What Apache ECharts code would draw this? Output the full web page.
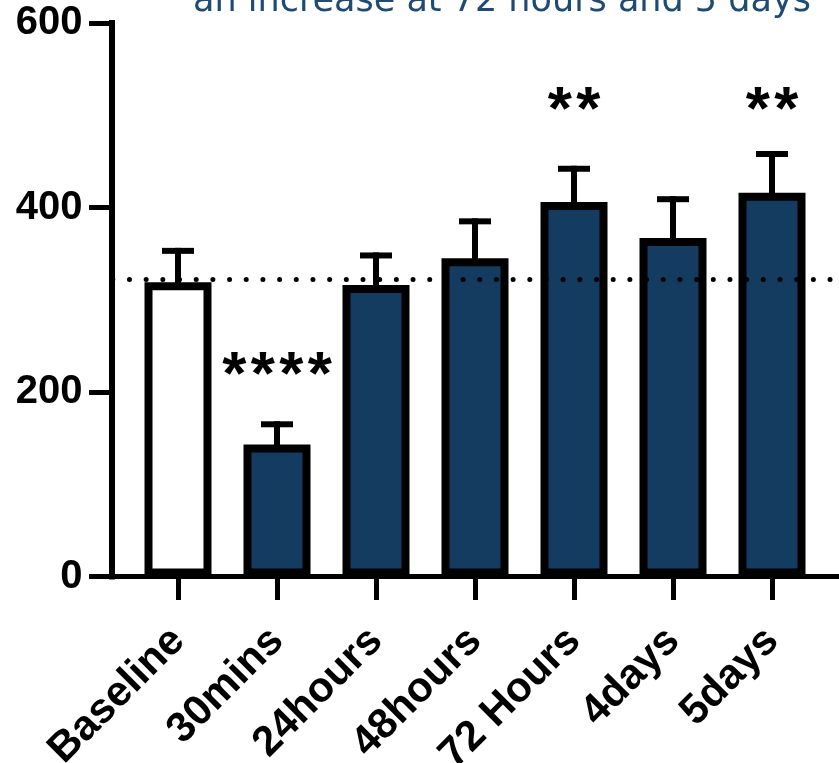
<!DOCTYPE html>
<html>
<head>
<meta charset="utf-8">
<script src="https://cdn.jsdelivr.net/npm/echarts@6/dist/echarts.min.js"></script>
<style>html,body{margin:0;padding:0;background:#fff}#c{width:839px;height:763px}</style>
</head>
<body>
<div id="c"></div>
<script>
const categories = ['Baseline', '30mins', '24hours', '48hours', '72 Hours', '4days', '5days'];
const means = [319, 143, 316, 345, 406, 367, 416];
const sem = [34, 22, 32, 40, 36, 42, 42];
const refValue = 322;
const stars = ['', '****', '', '', '**', '', '**'];
const starLevels = [null, 216, null, null, 504, null, 504];
const yTicks = [0, 200, 400, 600];
const titleText = 'an increase at 72 hours and 5 days';

const barBlue = '#143b60';
const chart = echarts.init(document.getElementById('c'));

const gridTop = 23, gridBottom = 186.5;

const option = {
  animation: false,
  title: {
    text: titleText,
    left: 188, top: -21,
    textStyle: {fontFamily: 'DejaVu Sans', fontWeight: 'normal', fontSize: 35, color: '#1f4a74'}
  },
  grid: [
    {left: 111.5, right: 0, top: gridTop, bottom: gridBottom, containLabel: false, outerBoundsMode: 'none'},
    {left: 128.5, width: 693, top: gridTop, bottom: gridBottom, containLabel: false, outerBoundsMode: 'none'}
  ],
  xAxis: [
    {gridIndex: 0, type: 'value', min: 0, max: 1,
     axisLine: {show: true, lineStyle: {color: '#000', width: 5}},
     axisTick: {show: false}, axisLabel: {show: false}, splitLine: {show: false}},
    {gridIndex: 1, type: 'category', data: categories, boundaryGap: true,
     axisLine: {show: false},
     axisTick: {show: true, alignWithLabel: true, length: 23.5, lineStyle: {color: '#000', width: 5}},
     axisLabel: {rotate: 45, margin: 58, interval: 0, color: '#000', fontFamily: 'Liberation Sans, Arial', fontWeight: 'bold', fontSize: 42}}
  ],
  yAxis: [
    {gridIndex: 0, type: 'value', min: yTicks[0], max: yTicks[yTicks.length - 1], interval: 200,
     axisLine: {show: true, lineStyle: {color: '#000', width: 6, cap: 'square'}},
     axisTick: {show: true, length: 22.5, lineStyle: {color: '#000', width: 5}},
     axisLabel: {margin: 29, color: '#000', fontFamily: 'Liberation Sans, Arial', fontWeight: 'bold', fontSize: 40},
     splitLine: {show: false}},
    {gridIndex: 1, type: 'value', min: yTicks[0], max: yTicks[yTicks.length - 1], show: false}
  ],
  series: [
    {
      type: 'custom', xAxisIndex: 1, yAxisIndex: 1, z: 1,
      data: means.map((m, i) => [i, m, m + sem[i]]),
      renderItem: function (params, api) {
        const p0 = api.coord([api.value(0), api.value(1)]);
        const p1 = api.coord([api.value(0), api.value(2)]);
        const st = {stroke: '#000', lineWidth: 6};
        return {type: 'group', children: [
          {type: 'line', shape: {x1: p0[0], y1: p0[1] + 4, x2: p1[0], y2: p1[1] - 3}, style: st},
          {type: 'line', shape: {x1: p1[0] - 16, y1: p1[1], x2: p1[0] + 16, y2: p1[1]}, style: st}
        ]};
      }
    },
    {
      type: 'bar', xAxisIndex: 1, yAxisIndex: 1, z: 2, barWidth: 67,
      data: means.map((m, i) => ({value: m, itemStyle: {color: i === 0 ? '#fff' : barBlue}})),
      itemStyle: {borderColor: '#000', borderWidth: 8}
    },
    {
      type: 'custom', xAxisIndex: 1, yAxisIndex: 1, z: 5,
      data: stars.map((s, i) => [i, starLevels[i], s]).filter(d => d[2]),
      renderItem: function (params, api) {
        const p = api.coord([api.value(0), api.value(1)]);
        const s = stars[api.value(0)];
        const pitch = 28.5;
        const children = [];
        for (let k = 0; k < s.length; k++) {
          children.push({type: 'text', x: p[0] + (k - (s.length - 1) / 2) * pitch, y: p[1],
            style: {text: '*', fontFamily: 'Liberation Sans, Arial', fontWeight: 'bold', fontSize: 62,
                    fill: '#000', align: 'center', verticalAlign: 'middle'}});
        }
        return {type: 'group', children: children};
      }
    },
    {
      type: 'line', xAxisIndex: 0, yAxisIndex: 0, z: 10, showSymbol: false,
      data: [[0, refValue]], lineStyle: {width: 0},
      markLine: {
        silent: true, symbol: 'none', label: {show: false},
        lineStyle: {color: '#000', width: 5, type: [0, 16.68], cap: 'round', dashOffset: -1.3},
        data: [{yAxis: refValue}]
      }
    }
  ]
};
chart.setOption(option);
</script>
</body>
</html>
